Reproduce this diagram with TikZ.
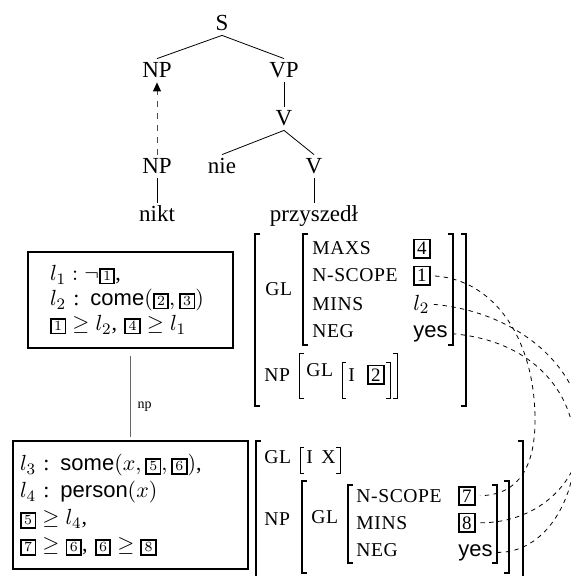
\documentclass[tikz,border=0pt]{standalone}
\usepackage{amsmath, amssymb}
\usepackage{fontspec}
\setmainfont{Liberation Serif}
\setsansfont{Liberation Sans}
\newfontfamily\featfont[LetterSpace=3]{Liberation Serif}
\usetikzlibrary{arrows.meta}

% boxed tags
\newcommand{\tg}[1]{{\setlength{\fboxsep}{0.9pt}\setlength{\fboxrule}{0.9pt}\fbox{\makebox[4.6pt]{\fontsize{7.5}{7.5}\selectfont$#1$}}}}
\newcommand{\avtg}[1]{{\setlength{\fboxsep}{1pt}\setlength{\fboxrule}{0.9pt}\fbox{\fontsize{9.5}{9.5}\selectfont #1}}}

\begin{document}
\begin{tikzpicture}[x=0.5pt, y=-0.5pt, >={Triangle[length=4.5pt, width=4pt, color=black]},
    cat/.style={inner xsep=1.5pt, inner ysep=2pt, text height=7.5pt, text depth=0pt, anchor=base, font=\fontsize{11.5}{13}\selectfont},
    sem/.style={draw, line width=1.2pt, align=left, font=\fontsize{11}{12.5}\selectfont},
    feat/.style={inner sep=0pt, anchor=base west, font=\featfont\fontsize{9.8}{11}\selectfont},
    val/.style={inner sep=0pt, anchor=base west, font=\fontsize{11}{13}\selectfont},
    brk/.style={line width=0.9pt},
    thin brk/.style={line width=0.5pt},
    link/.style={line width=0.4pt, dash pattern=on 2.2pt off 2.2pt, shorten <=2pt, shorten >=2pt}]
    \useasboundingbox (0,0) rectangle (570,576);

    % Tree
    \node[cat] (S)    at (222,31)  {S};
    \node[cat] (NPa)  at (157,78)  {NP};
    \node[cat] (VP)   at (284,78)  {VP};
    \node[cat] (Va)   at (284,126) {V};
    \node[cat] (NPb)  at (157,174) {NP};
    \node[cat] (nie)  at (222,174) {nie};
    \node[cat] (Vb)   at (314,174) {V};
    \node[cat] (nikt) at (157,222) {nikt};
    \node[cat] (przy) at (314,222) {przyszedł};

    \draw (S.south) -- (NPa.north);
    \draw (S.south) -- (VP.north);
    \draw (VP.south) -- (Va.north);
    \draw (Va.south) -- (nie.north);
    \draw (Va.south) -- (Vb.north);
    \draw (NPb.south) -- (nikt.north);
    \draw (Vb.south) -- (przy.north);
    \draw[->, dashed, black!70] (NPb.north) -- (NPa.south);

    % Semantic boxes
    \node[sem, text width=80.5pt, inner xsep=11pt, minimum height=48pt] (box1) at (130.5,300)
        {$l_1 : \neg$\tg{1},\\ $l_2$ : \textsf{come}$(\tg{2}, \tg{3})$\\ $\tg{1} \geq l_2$, $\tg{4} \geq l_1$};
    \node[sem, text width=110.5pt, inner xsep=3.5pt, minimum height=64pt] (box2) at (130.5,505)
        {$l_3$ : \textsf{some}$(x, \tg{5}, \tg{6})$,\\[1pt] $l_4$ : \textsf{person}$(x)$\\[1pt] $\tg{5} \geq l_4$,\\[1pt] $\tg{7} \geq \tg{6}$, $\tg{6} \geq \tg{8}$};
    \draw[black!60, shorten <=3.5pt, shorten >=1.5pt] (box1) -- (box2)
        node[pos=0.64, right, font=\fontsize{7}{8}\selectfont, text=black] {np};

    % AVM of the verb
    \draw[brk] (260,234) -- (255,234) -- (255,406) -- (260,406);
    \draw[brk] (461,234) -- (466,234) -- (466,406) -- (461,406);
    \node[feat] (gla) at (265,296) {GL};
    \draw[brk] (308,234) -- (303,234) -- (303,345) -- (308,345);
    \draw[brk] (448,234) -- (453,234) -- (453,345) -- (448,345);
    \node[feat] (maxs)  at (312,255) {MAXS};
    \node[feat] (nsca)  at (312,282) {N-SCOPE};
    \node[feat] (minsa) at (312,310) {MINS};
    \node[feat] (nega)  at (312,337) {NEG};
    \node[val] (v4)   at (413,255) {\avtg{4}};
    \node[val] (v1)   at (413,282) {\avtg{1}};
    \node[val] (vl2)  at (413,310) {$l_2$};
    \node[val] (yesa) at (413,337) {\textsf{yes}};
    \node[feat] (npa) at (264,381) {NP};
    \draw[thin brk] (304,353) -- (299,353) -- (299,398) -- (304,398);
    \node[feat] (glb) at (306,376) {GL};
    \draw[thin brk] (346,362) -- (342,362) -- (342,398) -- (346,398);
    \node[feat] (ia) at (348,381) {I};
    \node[val] (v2) at (367,381) {\avtg{2}};
    \draw[thin brk] (386,362) -- (390,362) -- (390,398) -- (386,398);
    \draw[thin brk] (393,353) -- (397,353) -- (397,398) -- (393,398);

    % AVM of the subject
    \draw[brk] (261,441) -- (256,441) -- (256,590);
    \draw[brk] (518,441) -- (523,441) -- (523,590);
    \node[feat] (glc) at (264,463) {GL};
    \draw[thin brk] (304,447) -- (300,447) -- (300,473) -- (304,473);
    \node[feat] (ib) at (306,463) {I};
    \node[feat] (xb) at (321,463) {X};
    \draw[thin brk] (336,447) -- (340,447) -- (340,473) -- (336,473);
    \node[feat] (npb) at (264,525) {NP};
    \draw[brk] (307,481) -- (302,481) -- (302,573) -- (307,573);
    \node[feat] (gld) at (311,523) {GL};
    \draw[brk] (353,485) -- (348,485) -- (348,563) -- (353,563);
    \node[feat] (nscb)  at (356,502) {N-SCOPE};
    \node[feat] (minsb) at (356,529) {MINS};
    \node[feat] (negb)  at (356,556) {NEG};
    \node[val] (v7)   at (458,502) {\avtg{7}};
    \node[val] (v8)   at (458,529) {\avtg{8}};
    \node[val] (yesb) at (458,556) {\textsf{yes}};
    \draw[brk] (492,485) -- (497,485) -- (497,563) -- (492,563);
    \draw[brk] (504,481) -- (509,481) -- (509,573) -- (504,573);

    % Links
    \draw[link] (v1.east) .. controls (495,280) and (535,340) .. (535,420)
        .. controls (535,465) and (520,495) .. (v7.east);
    \draw[link] (vl2.east) .. controls (520,312) and (582,370) .. (582,430)
        .. controls (582,480) and (540,523) .. (v8.east);
    \draw[link] (yesa.east) .. controls (530,340) and (575,390) .. (575,450)
        .. controls (575,500) and (545,553) .. (yesb.east);
\end{tikzpicture}
\end{document}
